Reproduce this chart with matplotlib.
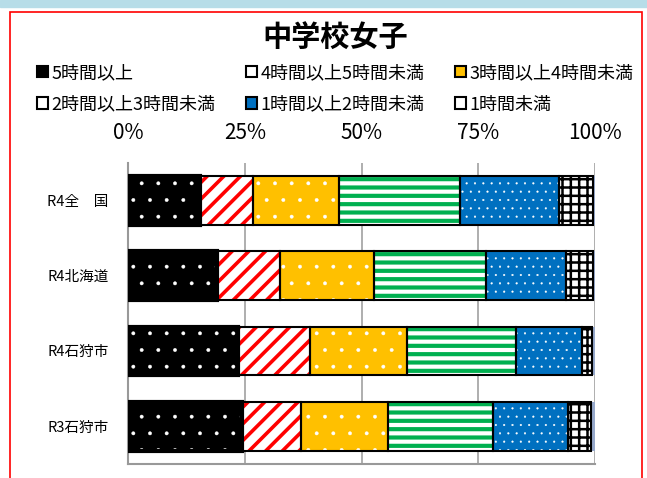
import matplotlib
matplotlib.use("Agg")
import matplotlib.pyplot as plt
from matplotlib.patches import Patch, Rectangle

plt.rcParams['font.family'] = ['Noto Sans CJK JP', 'DejaVu Sans']

title = "中学校女子"
groups = ["R4全\u3000国", "R4北海道", "R4石狩市", "R3石狩市"]
series = ["5時間以上", "4時間以上5時間未満", "3時間以上4時間未満",
          "2時間以上3時間未満", "1時間以上2時間未満", "1時間未満"]

# percent values per series, one value per group (top to bottom)
h5_plus = [15.4, 19.0, 23.4, 24.4]
h4_5 = [11.3, 13.6, 15.5, 12.5]
h3_4 = [18.4, 20.1, 20.9, 18.7]
h2_3 = [25.9, 23.9, 23.3, 22.5]
h1_2 = [21.3, 17.2, 14.2, 16.2]
h0_1 = [7.2, 5.7, 2.0, 4.9]
no_answer = [0.5, 0.5, 0.7, 0.8]

values = [h5_plus, h4_5, h3_4, h2_3, h1_2, h0_1]
xticks = [0, 25, 50, 75, 100]
xticklabels = ["0%", "25%", "50%", "75%", "100%"]

# face colour, hatch colour, hatch pattern, hatch line width
styles = [
    ("black", "white", ".", 0.3),
    ("white", "#ff0000", "//", 2.6),
    ("#ffc000", "white", ".", 0.3),
    ("white", "#00b050", "--", 3.0),
    ("#0070c0", "white", "..", 0.3),
    ("white", "black", "++", 1.8),
]


def hatched_barh(ax, y, w, left, face, hcol, hatch, hlw, height, outline_lw):
    with plt.rc_context({'hatch.linewidth': hlw}):
        bars = ax.barh(y, w, left=left, height=height, color=face,
                       edgecolor=hcol, linewidth=0, hatch=hatch, zorder=2)
        for b in bars:
            if hasattr(b, 'set_hatch_linewidth'):
                b.set_hatch_linewidth(hlw)
    ax.barh(y, w, left=left, height=height, fill=False,
            edgecolor='black', linewidth=outline_lw, zorder=3)
    return bars


fig = plt.figure(figsize=(6.47, 4.78), dpi=100)

# light blue band and red frame
fig.add_artist(Rectangle((0, 1 - 7 / 478), 1, 7 / 478, transform=fig.transFigure,
                         color='#b7dde8', zorder=0))
fig.add_artist(Rectangle((10 / 647, -0.02), 632 / 647, 1 - 12 / 478 + 0.02,
                         transform=fig.transFigure, fill=False,
                         edgecolor='#ff0000', linewidth=1.2, zorder=0))

ax = fig.add_axes([128.3 / 647, 1 - 463.7 / 478, 466.7 / 647, 300.7 / 478])

ypos = list(range(len(groups)))
left = [0.0] * len(groups)
handles = []
for vals, (face, hcol, hatch, hlw), name in zip(values, styles, series):
    lw = 3.0 if face == 'black' else 1.5
    hatched_barh(ax, ypos, vals, left, face, hcol, hatch, hlw, 0.65, lw)
    handles.append(Patch(facecolor=face, edgecolor='black', linewidth=1.5, label=name))
    left = [l + v for l, v in zip(left, vals)]
ax.barh(ypos, no_answer, left=left, height=0.65, color='#97a9cb', linewidth=0, zorder=2)

ax.set_xlim(0, 100)
ax.set_ylim(len(groups) - 0.5, -0.5)
ax.set_xticks(xticks)
ax.set_xticklabels(xticklabels, fontsize=15)
ax.xaxis.tick_top()
ax.tick_params(axis='x', length=0, pad=14)
ax.set_yticks(ypos)
ax.set_yticklabels(groups, fontsize=10.5)
ax.tick_params(axis='y', length=0, pad=14)
ax.grid(axis='x', color='#999999', linewidth=1.1, zorder=0)
ax.set_axisbelow(True)
for s in ['top', 'right']:
    ax.spines[s].set_visible(False)
for s in ['left', 'bottom']:
    ax.spines[s].set_color('#999999')
    ax.spines[s].set_linewidth(1.5)

fig.text(335 / 647, 1 - 38 / 478, title, ha='center', va='center',
         fontsize=21, fontweight='bold')

# legend row-major over 3 columns
order = [0, 3, 1, 4, 2, 5]
leg = fig.legend([handles[i] for i in order], [series[i] for i in order],
                 ncol=3, loc='upper left', bbox_to_anchor=(37 / 647, 1 - 64 / 478),
                 frameon=False, fontsize=13, handlelength=0.6, handleheight=0.6,
                 handletextpad=0.2, columnspacing=1.7, labelspacing=0.75,
                 borderaxespad=0, borderpad=0)

fig.savefig("out.png", dpi=100)
